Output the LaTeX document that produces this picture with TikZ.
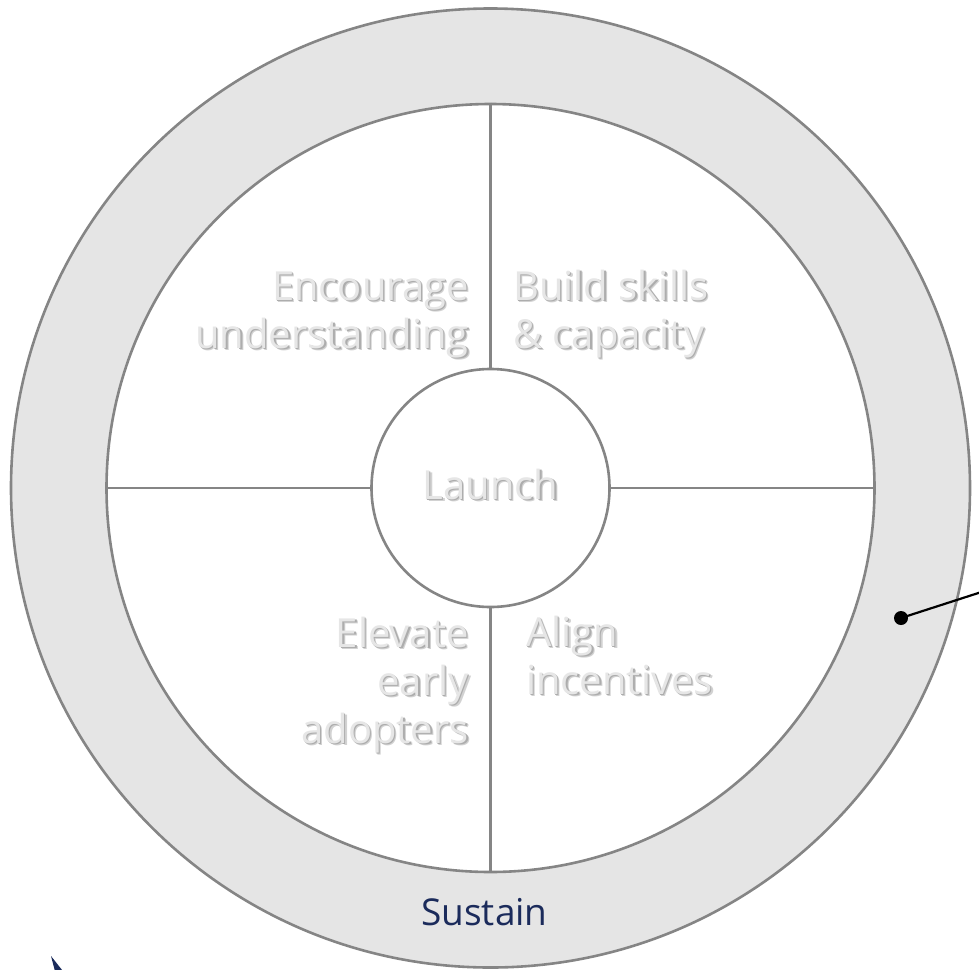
\documentclass[tikz,border=0pt]{standalone}
\usepackage{fontspec}
\setmainfont{Open Sans}
\definecolor{ringfill}{HTML}{E5E5E5}
\definecolor{ringline}{HTML}{858585}
\definecolor{txtlight}{HTML}{E6E6E6}
\definecolor{txtshadow}{HTML}{ADADAD}
\definecolor{txtshadowb}{HTML}{D2D2D2}
\definecolor{navy}{HTML}{1B2B5B}
\tikzset{
  ring/.style={circle, draw=ringline, line width=2.6pt, inner sep=0pt},
  divider/.style={draw=ringline, line width=2.2pt},
  lbl/.style={font=\fontsize{40}{48}\selectfont, inner sep=0pt, text=txtlight},
  lblshadow/.style={lbl, text=txtshadow},
  lblshadowb/.style={lbl, text=txtshadowb},
}
\newcommand\shlabel[4]{%
  \node[lblshadowb, anchor=#2, xshift=2.4pt, yshift=-2.4pt] (#1b) at #3 {#4};
  \node[lblshadow, anchor=#2, xshift=1.3pt, yshift=-1.3pt] (#1s) at #3 {#4};
  \node[lbl, anchor=#2] (#1) at #3 {#4};}
\begin{document}
\begin{tikzpicture}[x=1pt,y=-1pt]
\useasboundingbox (0,0) rectangle (979,969);
\node[ring, fill=ringfill, minimum size=959pt] (outer) at (490.5,488) {};
\node[ring, fill=white, minimum size=768pt] (inner) at (490.5,488) {};
\node[ring, fill=white, minimum size=238pt] (center) at (490.5,488) {};
\draw[divider] (inner.north) -- (center.north);
\draw[divider] (center.south) -- (inner.south);
\draw[divider] (inner.west) -- (center.west);
\draw[divider] (center.east) -- (inner.east);
% labels
\shlabel{enc1}{base east}{(469,300)}{Encourage}
\shlabel{enc2}{base east}{(469,348)}{understanding}
\shlabel{bld1}{base west}{(513,300)}{Build skills}
\shlabel{bld2}{base west}{(513,348)}{\& capacity}
\shlabel{lau}{base}{(490.5,499)}{Launch}
\shlabel{ele1}{base east}{(469,647)}{Elevate}
\shlabel{ele2}{base east}{(469,695)}{early}
\shlabel{ele3}{base east}{(469,743)}{adopters}
\shlabel{ali1}{base west}{(526,646)}{Align}
\shlabel{ali2}{base west}{(526,694)}{incentives}
\node[font=\fontsize{37}{44}\selectfont, text=navy, inner sep=0pt, anchor=base] (sustain) at (484.5,925) {Sustain};
% pointer
\node[circle, fill=black, inner sep=0pt, minimum size=14pt] (dot) at (901,618) {};
\coordinate (ptrend) at (1000,586);
\draw[line width=2.2pt] (dot.center) -- (ptrend);
% partial navy mark at bottom left
\fill[navy] (51,956) -- (56,975) -- (66,975) -- cycle;
\end{tikzpicture}
\end{document}
